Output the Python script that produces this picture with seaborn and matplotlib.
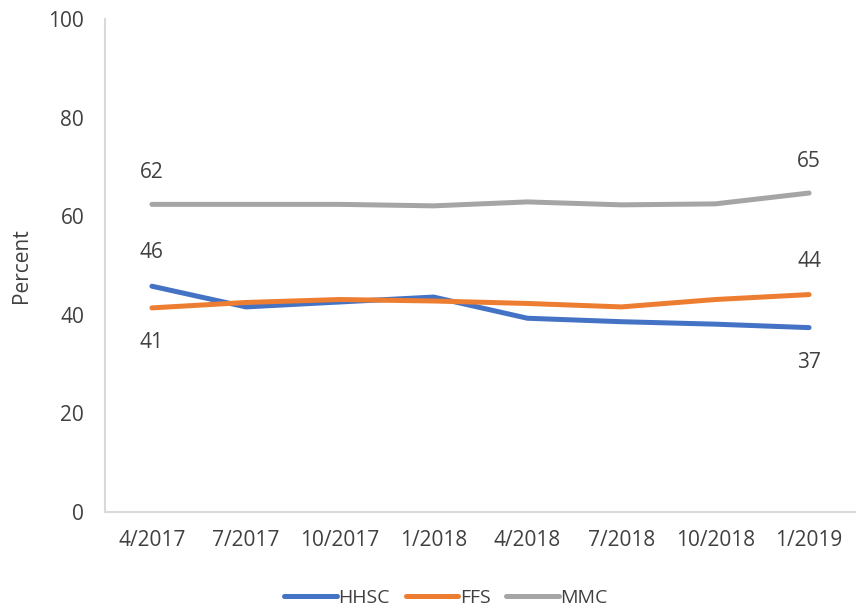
import matplotlib
matplotlib.use("Agg")
import matplotlib.pyplot as plt
import pandas as pd
import seaborn as sns

months = ["4/2017", "7/2017", "10/2017", "1/2018", "4/2018", "7/2018", "10/2018", "1/2019"]
hhsc = [45.8, 41.6, 42.6, 43.6, 39.3, 38.6, 38.1, 37.4]
ffs = [41.4, 42.5, 43.1, 42.8, 42.3, 41.6, 43.1, 44.1]
mmc = [62.4, 62.4, 62.4, 62.1, 62.9, 62.3, 62.5, 64.7]

series_names = ["HHSC", "FFS", "MMC"]
series_colors = ["#4472C4", "#ED7D31", "#A5A5A5"]

text_color = "#404040"
axis_color = "#D9D9D9"

sns.set_theme(style="white")
plt.rcParams["font.family"] = ["Open Sans", "DejaVu Sans"]

df = pd.DataFrame({
	"month": months * 3,
	"pos": list(range(len(months))) * 3,
	"value": hhsc + ffs + mmc,
	"series": [name for name in series_names for _ in months],
})

fig = plt.figure(figsize=(8.56, 6.10), dpi=100)
ax = fig.add_axes([105 / 856, 98 / 610, 1 - 105 / 856, 493 / 610])

sns.lineplot(
	data=df, x="pos", y="value", hue="series", hue_order=series_names,
	palette=series_colors, linewidth=3.6, ax=ax, legend=True,
)
for line in ax.get_lines():
	line.set_solid_capstyle("round")

ax.set_xlim(-0.5, len(months) - 0.5)
ax.set_ylim(0, 100)
ax.set_xticks(range(len(months)))
ax.set_xticklabels(months)
ax.set_yticks(range(0, 101, 20))
ax.tick_params(axis="x", length=0, pad=13, labelsize=15, labelcolor=text_color)
ax.tick_params(axis="y", length=0, pad=15, labelsize=15, labelcolor=text_color)
ax.set_xlabel("")
ax.set_ylabel("Percent", fontsize=15, color=text_color, labelpad=12)

for side in ["top", "right"]:
	ax.spines[side].set_visible(False)
for side in ["left", "bottom"]:
	ax.spines[side].set_color(axis_color)
	ax.spines[side].set_linewidth(1.5)

# end-point labels
last = len(months) - 1
labels = [
	(0, mmc[0], 23), (0, hhsc[0], 24), (0, ffs[0], -25),
	(last, mmc[last], 23), (last, ffs[last], 24), (last, hhsc[last], -25),
]
for xi, val, dy in labels:
	ax.annotate(f"{val:.0f}", (xi, val), xytext=(0, dy), textcoords="offset points",
				ha="center", va="center", fontsize=15, color=text_color)

handles, lbls = ax.get_legend_handles_labels()
ax.get_legend().remove()
leg = fig.legend(handles, lbls, loc="center", bbox_to_anchor=(0.521, 0.02), ncol=3,
				 frameon=False, fontsize=14, handlelength=2.7, handletextpad=0.1,
				 columnspacing=0.8)
for t in leg.get_texts():
	t.set_color(text_color)
for h in leg.legend_handles:
	h.set_linewidth(3.6)

fig.savefig("out.png", dpi=100)
